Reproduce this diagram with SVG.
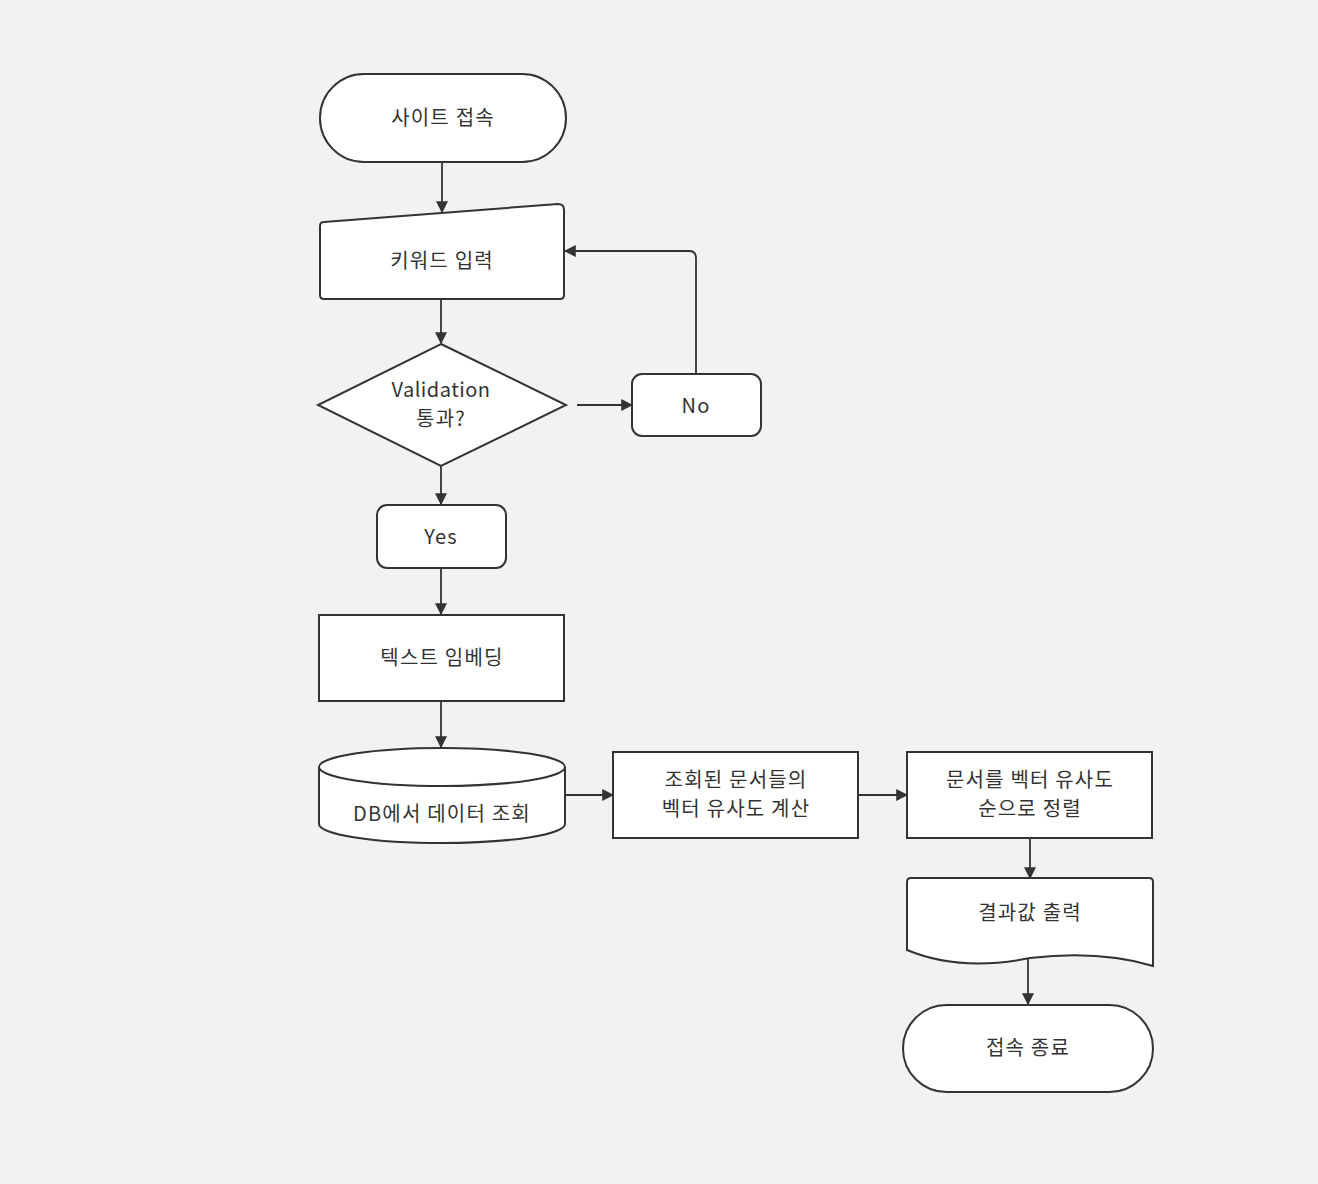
<svg xmlns="http://www.w3.org/2000/svg" width="1318" height="1184" viewBox="0 0 1318 1184">
<defs>
<style>
.n{fill:#fff;stroke:#333;stroke-width:2}
.t{font-family:"Noto Sans CJK KR","Noto Sans",sans-serif;font-size:20px;fill:#333;text-anchor:middle;letter-spacing:1.2px}
.c{fill:none;stroke:#333;stroke-width:1.8}
</style>
<marker id="a" viewBox="0 0 10 10" refX="9" refY="5" markerWidth="12" markerHeight="12" orient="auto" markerUnits="userSpaceOnUse"><path d="M0,0L10,5L0,10z" fill="#333"/></marker>
</defs>
<rect width="1318" height="1184" fill="#f2f2f2"/>
<g id="connectors">
<path class="c" d="M442,162V212" marker-end="url(#a)"/>
<path class="c" d="M441,299V343" marker-end="url(#a)"/>
<path class="c" d="M577,405H632" marker-end="url(#a)"/>
<path class="c" d="M696,373V258Q696,251 689,251H565" marker-end="url(#a)"/>
<path class="c" d="M441,466V504" marker-end="url(#a)"/>
<path class="c" d="M441,568V614" marker-end="url(#a)"/>
<path class="c" d="M441,701V747" marker-end="url(#a)"/>
<path class="c" d="M565,795H613" marker-end="url(#a)"/>
<path class="c" d="M858,795H907" marker-end="url(#a)"/>
<path class="c" d="M1030,838V878" marker-end="url(#a)"/>
<path class="c" d="M1028,958V1004" marker-end="url(#a)"/>
</g>
<g id="start"><rect class="n" x="320" y="74" width="246" height="88" rx="44"/><text class="t" x="443" y="125">사이트 접속</text></g>
<g id="input"><path class="n" d="M324,222L558,204Q564,204 564,210V295Q564,299 560,299H324Q320,299 320,295V226Q320,222 324,222Z"/><text class="t" x="442" y="268">키워드 입력</text></g>
<g id="decision"><path class="n" d="M441,344L566,405L441,466L318,405Z"/><text class="t" x="441" y="397" style="letter-spacing:0.5px">Validation</text><text class="t" x="441" y="426">통과?</text></g>
<g id="no"><rect class="n" x="632" y="374" width="129" height="62" rx="10"/><text class="t" x="696" y="413">No</text></g>
<g id="yes"><rect class="n" x="377" y="505" width="129" height="63" rx="10"/><text class="t" x="441" y="544">Yes</text></g>
<g id="embed"><rect class="n" x="319" y="615" width="245" height="86"/><text class="t" x="442" y="665">텍스트 임베딩</text></g>
<g id="db"><path class="n" d="M319,767V824A123,19 0 0 0 565,824V767"/><ellipse class="n" cx="442" cy="767" rx="123" ry="19"/><text class="t" x="442" y="821">DB에서 데이터 조회</text></g>
<g id="sim"><rect class="n" x="613" y="752" width="245" height="86"/><text class="t" x="736" y="787">조회된 문서들의</text><text class="t" x="736" y="816">벡터 유사도 계산</text></g>
<g id="sort"><rect class="n" x="907" y="752" width="245" height="86"/><text class="t" x="1030" y="787">문서를 벡터 유사도</text><text class="t" x="1030" y="816">순으로 정렬</text></g>
<g id="output"><path class="n" d="M911,878H1149Q1153,878 1153,882V966Q1100,950 1030,958Q960,972 907,950V882Q907,878 911,878Z"/><text class="t" x="1030" y="920">결과값 출력</text></g>
<g id="end"><rect class="n" x="903" y="1005" width="250" height="87" rx="43.5"/><text class="t" x="1028" y="1055">접속 종료</text></g>
</svg>
